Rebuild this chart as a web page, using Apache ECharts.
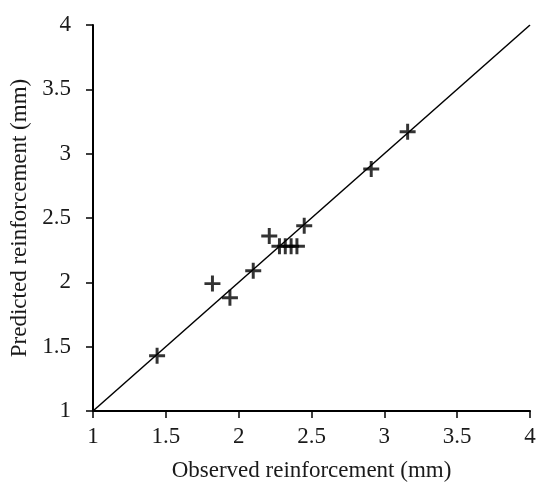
<!DOCTYPE html>
<html>
<head>
<meta charset="utf-8">
<script src="https://cdn.jsdelivr.net/npm/echarts@6/dist/echarts.min.js"></script>
<style>html,body{margin:0;padding:0;background:#fff}#c{width:539px;height:487px}</style>
</head>
<body>
<div id="c"></div>
<script>
var observed  = [1.44, 1.82, 1.94, 2.10, 2.21, 2.28, 2.32, 2.36, 2.40, 2.45, 2.91, 3.16];
var predicted = [1.43, 1.99, 1.88, 2.09, 2.36, 2.28, 2.28, 2.28, 2.28, 2.44, 2.88, 3.17];
var lineX = [1, 4];
var lineY = [1, 4];
var axisMin = 1, axisMax = 4, axisStep = 0.5;
var xTitle = 'Observed reinforcement (mm)';
var yTitle = 'Predicted reinforcement (mm)';

var pts = observed.map(function (x, i) { return [x, predicted[i]]; });
var linePts = lineX.map(function (x, i) { return [x, lineY[i]]; });
var font = 'Liberation Serif';
function axis(name, isY) {
  return {
    type: 'value', min: axisMin, max: axisMax, interval: axisStep,
    name: name, nameLocation: 'middle', nameGap: isY ? 60 : 48,
    nameTextStyle: { fontFamily: font, fontSize: 23, color: '#1a1a1a' },
    axisLine: { show: true, onZero: false, lineStyle: { color: '#000', width: 2 } },
    axisTick: { show: true, inside: false, length: 7, lineStyle: { color: '#000', width: 1.5 } },
    axisLabel: { fontFamily: font, fontSize: 23, color: '#1a1a1a', margin: isY ? 22 : 14 },
    splitLine: { show: false }
  };
}
var chart = echarts.init(document.getElementById('c'), null, { renderer: 'canvas' });
chart.setOption({
  animation: false,
  backgroundColor: '#fff',
  grid: { left: 93, right: 9, top: 25, bottom: 75 },
  xAxis: axis(xTitle, false),
  yAxis: axis(yTitle, true),
  series: [
    { type: 'line', data: linePts, symbol: 'none', lineStyle: { color: '#000', width: 1.5 }, z: 1 },
    { type: 'scatter', data: pts, symbol: 'path://M-1.3,-7H1.3V-1.3H7V1.3H1.3V7H-1.3V1.3H-7V-1.3H-1.3Z',
      symbolSize: 16, itemStyle: { color: '#000' }, z: 2 }
  ]
});
</script>
</body>
</html>
